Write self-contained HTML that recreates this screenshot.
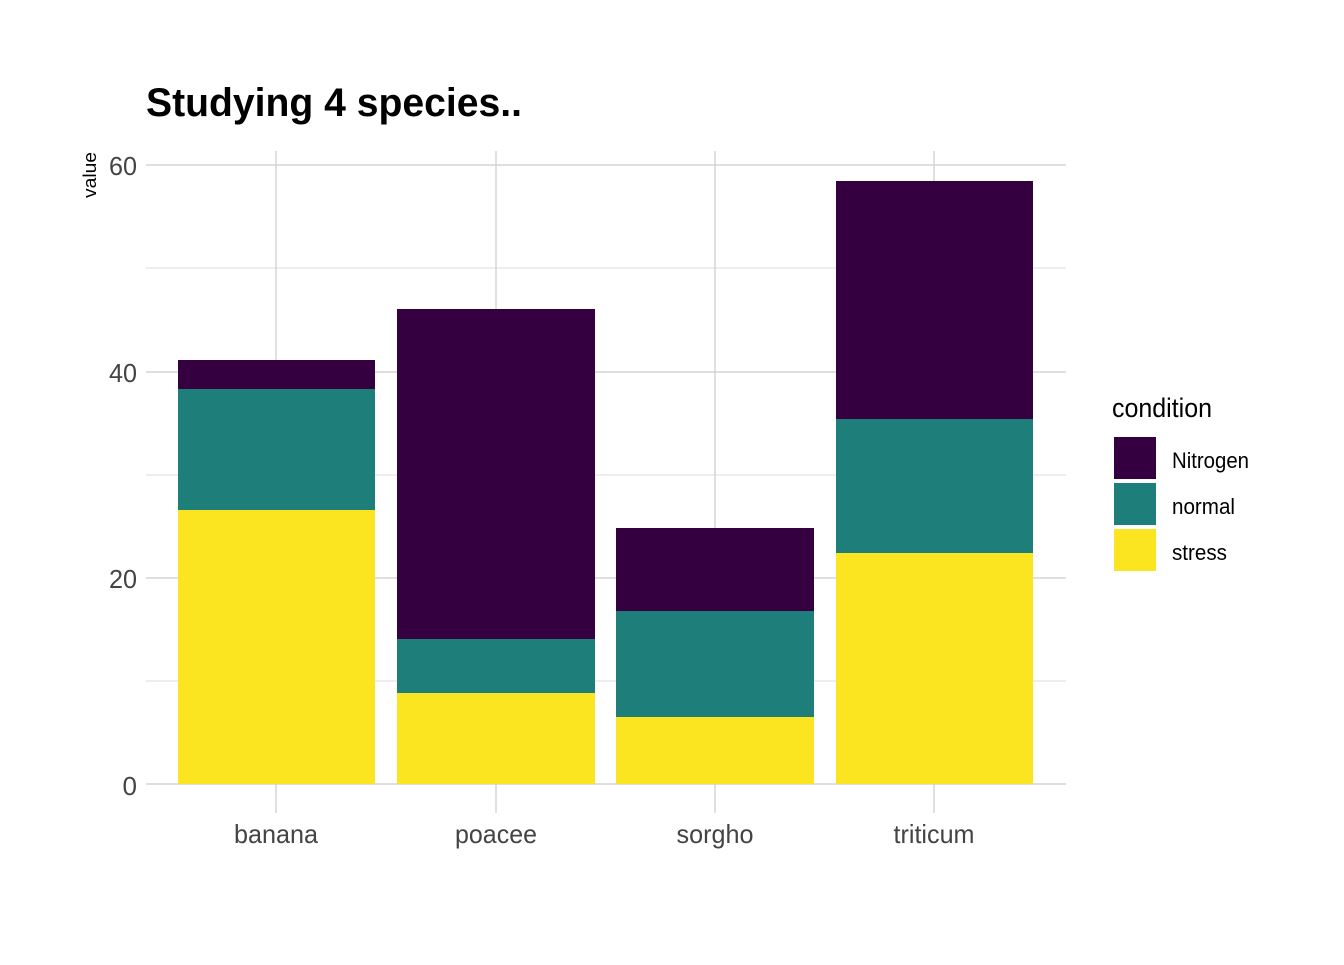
<!DOCTYPE html>
<html><head><meta charset="utf-8"><style>body{margin:0;background:#fff}</style></head><body>
<svg width="1344" height="960" xmlns="http://www.w3.org/2000/svg" font-family="Liberation Sans, sans-serif">
<rect width="1344" height="960" fill="#fff"/>
<g stroke="#dedede" stroke-width="1">
<line x1="146" x2="1066" y1="268" y2="268"/><line x1="146" x2="1066" y1="475" y2="475"/><line x1="146" x2="1066" y1="681" y2="681"/>
</g>
<g stroke="#cccccc" stroke-width="1.2">
<line x1="146" x2="1066" y1="165" y2="165"/><line x1="146" x2="1066" y1="372" y2="372"/><line x1="146" x2="1066" y1="578" y2="578"/><line x1="146" x2="1066" y1="784" y2="784"/>
<line x1="276" x2="276" y1="151" y2="813"/><line x1="496" x2="496" y1="151" y2="813"/><line x1="715" x2="715" y1="151" y2="813"/><line x1="934" x2="934" y1="151" y2="813"/>
</g>
<g>
<rect x="178" y="360" width="197" height="29" fill="#35003f"/><rect x="178" y="389" width="197" height="121" fill="#1e7f7a"/><rect x="178" y="510" width="197" height="274" fill="#fbe420"/>
<rect x="397" y="309" width="198" height="330" fill="#35003f"/><rect x="397" y="639" width="198" height="54" fill="#1e7f7a"/><rect x="397" y="693" width="198" height="91" fill="#fbe420"/>
<rect x="616" y="528" width="198" height="83" fill="#35003f"/><rect x="616" y="611" width="198" height="106" fill="#1e7f7a"/><rect x="616" y="717" width="198" height="67" fill="#fbe420"/>
<rect x="836" y="181" width="197" height="238" fill="#35003f"/><rect x="836" y="419" width="197" height="134" fill="#1e7f7a"/><rect x="836" y="553" width="197" height="231" fill="#fbe420"/>
</g>
<text x="146" y="116" font-size="40" font-weight="bold" textLength="376" lengthAdjust="spacingAndGlyphs">Studying 4 species..</text>
<g font-size="26" fill="#444" text-anchor="end">
<text x="137" y="175" textLength="28" lengthAdjust="spacingAndGlyphs">60</text>
<text x="137" y="382" textLength="28" lengthAdjust="spacingAndGlyphs">40</text>
<text x="137" y="588" textLength="28" lengthAdjust="spacingAndGlyphs">20</text>
<text x="137" y="795">0</text>
</g>
<g font-size="26" fill="#444" text-anchor="middle">
<text x="276" y="843" textLength="84" lengthAdjust="spacingAndGlyphs">banana</text>
<text x="496" y="843" textLength="82" lengthAdjust="spacingAndGlyphs">poacee</text>
<text x="715" y="843" textLength="77" lengthAdjust="spacingAndGlyphs">sorgho</text>
<text x="934" y="843" textLength="81" lengthAdjust="spacingAndGlyphs">triticum</text>
</g>
<text transform="translate(96,175) rotate(-90)" font-size="18" text-anchor="middle" textLength="46" lengthAdjust="spacingAndGlyphs">value</text>
<text x="1112" y="417" font-size="27" textLength="100" lengthAdjust="spacingAndGlyphs">condition</text>
<rect x="1114" y="437" width="42" height="42" fill="#35003f"/>
<rect x="1114" y="483" width="42" height="42" fill="#1e7f7a"/>
<rect x="1114" y="529" width="42" height="42" fill="#fbe420"/>
<g font-size="22">
<text x="1172" y="468" textLength="77" lengthAdjust="spacingAndGlyphs">Nitrogen</text>
<text x="1172" y="514" textLength="63" lengthAdjust="spacingAndGlyphs">normal</text>
<text x="1172" y="560" textLength="55" lengthAdjust="spacingAndGlyphs">stress</text>
</g>
</svg>
</body></html>
